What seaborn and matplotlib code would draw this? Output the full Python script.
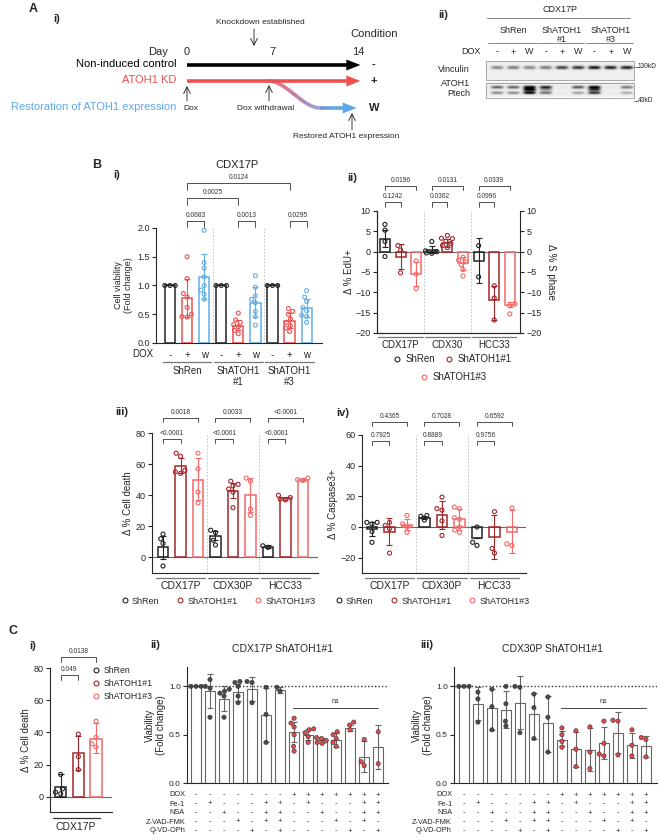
import warnings
import numpy as np
import pandas as pd
import matplotlib
matplotlib.use('Agg')
import matplotlib.pyplot as plt
import seaborn as sns
from matplotlib.transforms import offset_copy
from matplotlib.collections import LineCollection
from matplotlib.colors import LinearSegmentedColormap
from matplotlib.lines import Line2D
from matplotlib.patches import Rectangle

warnings.filterwarnings('ignore')

# ---------------- data ----------------
timeline_days = [0, 7, 14]

blot_lanes = ['-', '+', 'W'] * 3
blot_groups = ['ShRen', 'ShATOH1\n#1', 'ShATOH1\n#3']
vinculin_band = [0.45, 0.5, 0.45, 0.5, 0.75, 0.8, 0.95, 0.9, 0.9]
atoh1_upper = [0.6, 0.6, 1.0, 0.85, 0.04, 0.65, 1.0, 0.04, 0.5]
atoh1_mid = [0.0, 0.0, 1.0, 0.3, 0.0, 0.0, 0.7, 0.0, 0.0]
atoh1_lower = [0.45, 0.45, 1.0, 0.55, 0.03, 0.35, 0.8, 0.03, 0.3]

# B i  CDX17P viability
bi_cond = ['-', '+', 'w'] * 3
bi_groups = ['ShRen', 'ShATOH1\n#1', 'ShATOH1\n#3']
bi_mean = [1.0, 0.78, 1.15, 1.0, 0.30, 0.70, 1.0, 0.38, 0.61]
bi_lo = [1.0, 0.45, 0.76, 1.0, 0.22, 0.45, 1.0, 0.26, 0.46]
bi_hi = [1.0, 1.12, 1.55, 1.0, 0.40, 0.97, 1.0, 0.52, 0.76]
bi_pts = [[1, 1, 1], [1.50, 1.12, 0.86, 0.80, 0.62, 0.50, 0.46, 0.45],
          [1.96, 1.40, 1.30, 1.15, 1.00, 0.92, 0.85, 0.76], [1, 1, 1],
          [0.52, 0.40, 0.36, 0.32, 0.28, 0.22, 0.16],
          [1.17, 0.97, 0.82, 0.76, 0.70, 0.55, 0.46, 0.31], [1, 1, 1],
          [0.60, 0.55, 0.50, 0.42, 0.36, 0.30, 0.26, 0.20],
          [0.91, 0.80, 0.72, 0.62, 0.56, 0.48, 0.46, 0.36]]

lines = ['ShRen', 'ShATOH1#1', 'ShATOH1#3']
bar_lines = lines * 3

# B ii  EdU
bii_models = ['CDX17P', 'CDX30', 'HCC33']
bii_mean = [3.2, -1.3, -5.5, 0.3, 2.2, -2.8, -2.2, -12.0, -13.0]
bii_lo = [1.1, -4.3, -8.5, -0.4, 1.2, -4.5, -7.6, -16.8, -13.6]
bii_hi = [5.3, 1.8, -2.5, 1.5, 3.2, -1.3, 3.3, -8.4, -12.5]
bii_pts = [[6.7, 5.3, 2.5, -1.2], [1.5, 0.4, -5.2], [-2.3, -5.5, -9.1],
           [2.5, 0.2, 0.0, -0.3, -0.4], [4.0, 3.3, 3.2, 2.6, 2.0, 1.5, 1.0],
           [-1.4, -2.1, -2.5, -3.2, -4.4, -6.0], [1.5, -6.2],
           [-8.4, -11.4, -16.8], [-12.9, -13.3, -15.3]]

# B iii  cell death
biii_models = ['CDX17P', 'CDX30P', 'HCC33']
biii_mean = [7, 59, 50, 14, 43, 40, 7, 38, 50]
biii_lo = [-1, 54, 37, 11, 38, 29, 6, 37, 49]
biii_hi = [14, 64, 64, 17, 48, 51, 8, 39, 51]
biii_pts = [[15, 12, 9, -5.5], [67, 65, 56, 55, 54], [67, 57, 42, 35],
            [17.5, 16, 11, 8], [49, 47, 46, 44, 42, 32], [51, 49, 31, 27],
            [6.5, 7.5], [40, 38.5, 37, 37.5], [50, 49.5, 51]]

# B iv  caspase3
biv_mean = [-1, -3, 1.5, 6, 8, 5.5, -7, -6.5, -3]
biv_lo = [-6, -12, -2, 5, -1, -2, -7, -21, -17]
biv_hi = [3, 6, 5, 7.5, 17, 12, -7, 8, 11]
biv_pts = [[3, 3, 2, -3, -10], [3, 1, -1, -17], [7.5, 2, 0, -3.5], [7.5, 7, 4.5],
           [19.5, 12, 11, 4, -5.5], [13, 12, 6, 5, 0, -2, -3.5], [0, -10, -12],
           [10, -14, -17], [12.5, -11, -12]]

# C i
ci_mean = [6, 27, 36]
ci_lo = [0, 17, 27]
ci_hi = [14, 38, 46]
ci_pts = [[14, 5, 3, 2], [39, 25, 17], [47, 37, 33, 31]]

# C ii / iii treatment table
tbl_rows = ['DOX', 'Fe-1', 'NSA', 'Z-VAD-FMK', 'Q-VD-OPh']
tbl = ['-------+++++++',
       '-+---++-+---++',
       '--+--++--+--++',
       '---+-++---+-+-',
       '----+-+----+-+']

cii_mean = [1.0, 0.95, 0.87, 0.94, 0.97, 0.70, 0.96, 0.53, 0.50, 0.44, 0.44, 0.57, 0.27, 0.37]
cii_lo = [1.0, 0.78, 0.74, 0.85, 0.85, 0.42, 0.93, 0.42, 0.45, 0.41, 0.37, 0.54, 0.11, 0.15]
cii_hi = [1.0, 1.13, 1.00, 1.02, 1.10, 0.98, 0.99, 0.63, 0.56, 0.47, 0.52, 0.60, 0.43, 0.60]
cii_pts = [[1, 1, 1], [1.07, 1.0, 0.98, 0.68], [0.97, 0.95, 0.93, 0.90, 0.68],
           [1.05, 1.04, 1.0, 0.90, 0.83], [1.05, 1.04, 0.83], [0.99, 0.71, 0.42],
           [0.99, 0.95], [0.67, 0.62, 0.58, 0.50, 0.38, 0.33],
           [0.56, 0.55, 0.52, 0.48, 0.42], [0.47, 0.46, 0.44, 0.42, 0.41],
           [0.53, 0.50, 0.46, 0.42, 0.38], [0.63, 0.60, 0.55], [0.45, 0.22, 0.18],
           [0.53, 0.20]]

ciii_mean = [1.0, 0.82, 0.78, 0.76, 0.83, 0.71, 0.62, 0.45, 0.35, 0.34, 0.41, 0.52, 0.39, 0.38]
ciii_lo = [1.0, 0.65, 0.55, 0.57, 0.56, 0.46, 0.32, 0.38, 0.17, 0.12, 0.25, 0.31, 0.26, 0.27]
ciii_hi = [1.0, 0.99, 0.97, 0.95, 1.11, 0.93, 0.90, 0.54, 0.53, 0.57, 0.58, 0.73, 0.52, 0.49]
ciii_pts = [[1, 1, 1], [0.94, 0.87, 0.63], [0.97, 0.79, 0.55], [1.0, 0.82, 0.64, 0.59],
            [1.0, 0.99, 0.52], [0.92, 0.78, 0.46], [0.89, 0.68, 0.32],
            [0.57, 0.50, 0.43, 0.37], [0.54, 0.35, 0.17], [0.58, 0.32, 0.15],
            [0.64, 0.41, 0.30, 0.28], [0.65, 0.64, 0.29], [0.55, 0.39, 0.28],
            [0.47, 0.45, 0.27]]

# ---------------- style ----------------
sns.set_theme(style='ticks')
plt.rcParams['font.family'] = ['Liberation Sans', 'DejaVu Sans']
plt.rcParams['axes.linewidth'] = 0.8

KD_RED = '#ef4f4f'
W_BLUE = '#5ea8ea'
cond_colors = {'-': '#222222', '+': '#ec5252', 'w': '#62aee8'}
line_colors = {'ShRen': '#222222', 'ShATOH1#1': '#a3262a', 'ShATOH1#3': '#f26a6a'}

W, H = 659, 840
fig = plt.figure(figsize=(W / 100, H / 100), dpi=100)


def px_axes(x0, y0, x1, y1):
    return fig.add_axes([x0 / W, 1 - y1 / H, (x1 - x0) / W, (y1 - y0) / H])


def ftext(x, y, s, **kw):
    kw.setdefault('ha', 'center')
    kw.setdefault('va', 'center')
    fig.text(x / W, 1 - y / H, s, **kw)


def below(ax, dy, dx=0):
    return offset_copy(ax.get_xaxis_transform(), fig=fig, x=dx, y=-dy, units='dots')


def style(ax, fs=6.5):
    sns.despine(ax=ax)
    ax.tick_params(labelsize=fs, length=3, width=0.8, pad=1.5)
    ax.set_xlabel('')


def bar_panel(ax, means, lo, hi, pts, colors, width=0.6, lw=1.1, size=2.9,
              hollow=True, pt_colors=None, pt_edge='#333333'):
    ids = [str(i) for i in range(len(means))]
    bars = pd.DataFrame({'bar': ids, 'mean': means})
    sns.barplot(data=bars, x='bar', y='mean', hue='bar', order=ids, hue_order=ids,
                palette=dict(zip(ids, colors)), fill=False, dodge=False,
                errorbar=None, width=width, linewidth=lw, legend=False, ax=ax)
    for i in range(len(ids)):
        ax.errorbar(i, means[i], yerr=[[means[i] - lo[i]], [hi[i] - means[i]]],
                    fmt='none', ecolor=colors[i], elinewidth=0.8, capsize=2,
                    capthick=0.8)
    long = pd.DataFrame({'bar': [ids[i] for i, p in enumerate(pts) for _ in p],
                         'val': [v for p in pts for v in p]})
    n0 = len(ax.collections)
    sns.swarmplot(data=long, x='bar', y='val', hue='bar', order=ids, hue_order=ids,
                  palette=dict(zip(ids, pt_colors or colors)), size=size,
                  legend=False, ax=ax)
    for c in ax.collections[n0:]:
        if hollow:
            c.set_edgecolors(c.get_facecolors())
            c.set_facecolors('none')
            c.set_linewidths(0.8)
        else:
            c.set_edgecolors(pt_edge)
            c.set_linewidths(0.4)


def bracket(ax, i, j, y, leg, label, fs=4.8, color='#333333'):
    ax.plot([i, i, j, j], [y - leg, y, y, y - leg], color=color, lw=0.6, clip_on=False)
    ax.annotate(label, xy=((i + j) / 2, y), xytext=(0, 1.5), textcoords='offset points',
                ha='center', va='bottom', fontsize=fs, color=color,
                annotation_clip=False)


def group_lines(ax, names, dy_line, dy_text, fs=7, color='#777777', lw=0.9):
    for g, name in enumerate(names):
        ax.plot([3 * g - 0.42, 3 * g + 2.42], [0, 0], transform=below(ax, dy_line),
                color=color, lw=lw, clip_on=False)
        ax.text(3 * g + 1, 0, name, transform=below(ax, dy_text), ha='center',
                va='top', fontsize=fs, linespacing=1.1)


def legend_at(labels, colors, cx, cy, ncol, fs=6.5, colspace=1.6):
    hs = [Line2D([], [], marker='o', ls='none', mfc='none', mec=c, ms=3.5, mew=0.8)
          for c in colors]
    fig.legend(hs, labels, ncol=ncol, loc='center', bbox_to_anchor=(cx / W, 1 - cy / H),
               frameon=False, fontsize=fs, handletextpad=0.3, columnspacing=colspace,
               handlelength=1.0, borderpad=0, borderaxespad=0)


# ---------------- A i : schematic ----------------
ax = px_axes(0, 0, 400, 150)
ax.axis('off')


def d(px):
    return (px - 187) / 12.21


ftext(33, 9, 'A', fontsize=9, fontweight='bold')
ftext(57, 19, 'i)', fontsize=8, fontweight='bold')
for day in timeline_days:
    ax.text(day, 52, str(day), ha='center', va='center', fontsize=8)
ax.text(d(158), 52, 'Day', ha='center', va='center', fontsize=8)
ax.text(d(374), 34, 'Condition', ha='center', va='center', fontsize=8)
ax.text(d(260), 23, 'Knockdown established', ha='center', va='center', fontsize=6)
ax.annotate('', xy=(d(254), 46), xytext=(d(254), 29),
            arrowprops=dict(arrowstyle='->', lw=0.6, color='k', shrinkA=0, shrinkB=0))

rows = [('Non-induced control', 'black', '-', 65), ('ATOH1 KD', KD_RED, '+', 81)]
for label, col, cond, y in rows:
    ax.text(d(176), y - 1, label, ha='right', va='center', fontsize=8, color=col)
    ax.arrow(0, y, 14.2, 0, width=3.6, head_width=11, head_length=1.15,
             length_includes_head=True, color=col, lw=0)
    ax.text(d(374), y, cond, ha='center', va='center', fontsize=8, fontweight='bold')

ax.text(d(176), 107, 'Restoration of ATOH1 expression', ha='right', va='center',
        fontsize=8, color=W_BLUE)
xs = np.linspace(6.7, 12.6, 120)
t = np.clip((xs - 6.7) / 4.2, 0, 1)
ys = 81 + 27 * t * t * (3 - 2 * t)
segs = np.stack([np.column_stack([xs[:-1], ys[:-1]]), np.column_stack([xs[1:], ys[1:]])], axis=1)
grad = LinearSegmentedColormap.from_list('kdw', [KD_RED, '#9a6aa0', W_BLUE])
ax.add_collection(LineCollection(segs, colors=grad(np.clip((xs[:-1] - 6.9) / 5.0, 0, 1)),
                                 linewidths=2.6, capstyle='butt'))
ax.arrow(12.5, 108, 1.4, 0, width=3.6, head_width=11, head_length=1.15,
         length_includes_head=True, color=W_BLUE, lw=0)
ax.text(d(374), 108, 'W', ha='center', va='center', fontsize=8, fontweight='bold')

ax.annotate('', xy=(0, 86), xytext=(0, 101),
            arrowprops=dict(arrowstyle='->', lw=0.6, color='k', shrinkA=0, shrinkB=0))
ax.text(d(191), 109, 'Dox', ha='center', va='center', fontsize=6)
ax.annotate('', xy=(d(269), 85), xytext=(d(269), 101),
            arrowprops=dict(arrowstyle='->', lw=0.6, color='k', shrinkA=0, shrinkB=0))
ax.text(d(266), 108, 'Dox withdrawal', ha='center', va='center', fontsize=6)
ax.annotate('', xy=(d(352), 113), xytext=(d(352), 130),
            arrowprops=dict(arrowstyle='->', lw=0.6, color='k', shrinkA=0, shrinkB=0))
ax.text(d(293), 136, 'Restored ATOH1 expression', ha='left', va='center', fontsize=6)
ax.set_xlim(d(0), d(400))
ax.set_ylim(150, 0)

# ---------------- A ii : western blot ----------------
ax = px_axes(400, 0, 659, 150)
ax.axis('off')
lane_x = np.linspace(497, 627, 9)
bx = np.linspace(486, 634, 300)


def blot(y0, y1, bands):
    yy = np.linspace(y0, y1, 80)
    X, Y = np.meshgrid(bx, yy)
    img = np.full(X.shape, 0.94)
    for yc, hh, inten in bands:
        for xc, v in zip(lane_x, inten):
            img -= v * 0.95 * np.exp(-((X - xc) / 6.2) ** 4) * np.exp(-((Y - yc) / hh) ** 2)
    ax.imshow(np.clip(img, 0, 1), extent=[486, 634, y1, y0], cmap='gray', vmin=0, vmax=1,
              aspect='auto', interpolation='bilinear')
    ax.add_patch(Rectangle((486, y0), 148, y1 - y0, fill=False, ec='#999999', lw=0.6))


blot(61, 80, [(67.5, 1.7, vinculin_band)])
blot(83, 97.5, [(88, 1.5, atoh1_upper), (90.5, 1.6, atoh1_mid), (93.5, 1.3, atoh1_lower)])
ax.text(443, 15, 'ii)', ha='center', va='center', fontsize=8, fontweight='bold')
ax.text(560, 9, 'CDX17P', ha='center', va='center', fontsize=6.5)
ax.plot([487, 630], [18, 18], color='#888888', lw=0.7)
for g, name in enumerate(blot_groups):
    cx = lane_x[3 * g + 1]
    ax.text(cx, 26, name, ha='center', va='top', fontsize=6.5, linespacing=1.0)
    ax.plot([lane_x[3 * g] - 9, lane_x[3 * g + 2] + 6], [43, 43], color='#888888', lw=0.7)
ax.text(481, 52, 'DOX', ha='right', va='center', fontsize=6.5)
for xl, s in zip(lane_x, blot_lanes):
    ax.text(xl, 52, s, ha='center', va='center', fontsize=6.5)
ax.text(470, 70, 'Vinculin', ha='right', va='center', fontsize=6.5)
ax.text(470, 84, 'ATOH1', ha='right', va='center', fontsize=6.5)
ax.text(470, 94, 'Ptech', ha='right', va='center', fontsize=6.5)
ax.plot([634, 638], [67, 67], color='#555555', lw=0.6)
ax.text(638, 67, '130kD', ha='left', va='center', fontsize=4.8)
ax.plot([634, 638], [101, 101], color='#555555', lw=0.6)
ax.text(638, 101, '43kD', ha='left', va='center', fontsize=4.8)
ax.set_xlim(400, 659)
ax.set_ylim(150, 0)

# ---------------- B i ----------------
ftext(97, 165, 'B', fontsize=9, fontweight='bold')
ftext(117, 175, 'i)', fontsize=8, fontweight='bold')
ftext(237, 165, 'CDX17P', fontsize=8)
ax = px_axes(156, 228, 322, 343)
bar_panel(ax, bi_mean, bi_lo, bi_hi, bi_pts, [cond_colors[c] for c in bi_cond], width=0.6,
          size=2.8)
for xv in (2.5, 5.5):
    ax.axvline(xv, ls=(0, (2, 2)), color='#bbbbbb', lw=0.6, zorder=0)
style(ax)
ax.set_yticks([0, 0.5, 1.0, 1.5, 2.0])
ax.set_yticklabels(['0.0', '0.5', '1.0', '1.5', '2.0'])
ax.set_xticks(range(9))
ax.set_xticklabels(bi_cond, fontsize=7)
ax.tick_params(axis='x', length=0, pad=5)
ax.set_ylabel('Cell viability\n(Fold change)', fontsize=6.5, labelpad=3, linespacing=1.1)
bracket(ax, 1, 2, 2.12, 0.1, '0.0683')
bracket(ax, 4, 5, 2.12, 0.1, '0.0013')
bracket(ax, 7, 8, 2.12, 0.1, '0.0295')
bracket(ax, 1, 4, 2.52, 0.12, '0.0025')
bracket(ax, 1, 7, 2.78, 0.12, '0.0124')
ax.set_xlim(-0.82, 8.9)
ax.set_ylim(0, 2)
ftext(143, 354, 'DOX', fontsize=7)
group_lines(ax, bi_groups, 19, 23, fs=7)

# ---------------- B ii ----------------
ftext(352, 178, 'ii)', fontsize=8, fontweight='bold')
ax = px_axes(377, 211, 520, 333)
bar_panel(ax, bii_mean, bii_lo, bii_hi, bii_pts, [line_colors[l] for l in bar_lines],
          width=0.64)
ax.axhline(0, color='#666666', lw=0.8, zorder=0)
for xv in (2.5, 5.5):
    ax.axvline(xv, ls=(0, (2, 2)), color='#bbbbbb', lw=0.6, zorder=0)
style(ax)
ax.set_xticks([])
ax.set_ylabel('\u0394 % EdU+', fontsize=7, labelpad=1)
for (i, j, y, lab) in [(0, 1, 12.2, '0.1242'), (0, 2, 16.2, '0.0196'),
                       (3, 4, 12.2, '0.0362'), (3, 5, 16.2, '0.0131'),
                       (6, 7, 12.2, '0.0996'), (6, 8, 16.2, '0.0339')]:
    bracket(ax, i, j, y, 1.1, lab)
ax.set_xlim(-0.51, 8.65)
ax.set_ylim(-20, 10)
ax.set_yticks(range(-20, 11, 5))
tw = ax.twinx()
tw.set_ylim(-20, 10)
tw.set_yticks(range(-20, 11, 5))
tw.spines['top'].set_visible(False)
tw.tick_params(labelsize=6.5, length=3, width=0.8, pad=1.5)
tw.set_ylabel('\u0394 % S phase', fontsize=7, rotation=270, va='bottom', labelpad=3)
group_lines(ax, bii_models, 4, 7, fs=7)
legend_at(lines[:2], [line_colors[l] for l in lines[:2]], 452, 359, 2, fs=7, colspace=1.0)
legend_at(lines[2:], [line_colors[lines[2]]], 453, 377, 1, fs=7)

# ---------------- B iii ----------------
ftext(122, 412, 'iii)', fontsize=8, fontweight='bold')
ax = px_axes(152, 433, 318, 573)
bar_panel(ax, biii_mean, biii_lo, biii_hi, biii_pts, [line_colors[l] for l in bar_lines],
          width=0.62)
ax.axhline(0, color='#666666', lw=0.8, zorder=0)
for xv in (2.5, 5.5):
    ax.axvline(xv, ls=(0, (2, 2)), color='#bbbbbb', lw=0.6, zorder=0)
style(ax)
ax.set_xticks([])
ax.set_yticks([0, 20, 40, 60, 80])
ax.set_ylabel('\u0394 % Cell death', fontsize=7, labelpad=2)
for g, (top, low) in enumerate([('0.0018', '<0.0001'), ('0.0033', '<0.0001'),
                                ('<0.0001', '<0.0001')]):
    bracket(ax, 3 * g, 3 * g + 1, 76, 2.6, low)
    bracket(ax, 3 * g, 3 * g + 2, 89.5, 2.6, top)
ax.set_xlim(-0.63, 8.86)
ax.set_ylim(-10, 80)
group_lines(ax, biii_models, 5, 8, fs=7.5)
legend_at(lines, [line_colors[l] for l in lines], 218, 601, 3, fs=6.5, colspace=1.8)

# ---------------- B iv ----------------
ftext(343, 413, 'iv)', fontsize=8, fontweight='bold')
ax = px_axes(362, 435, 526, 573)
bar_panel(ax, biv_mean, biv_lo, biv_hi, biv_pts, [line_colors[l] for l in bar_lines],
          width=0.58)
ax.axhline(0, color='#666666', lw=0.8, zorder=0)
for xv in (2.5, 5.5):
    ax.axvline(xv, ls=(0, (2, 2)), color='#bbbbbb', lw=0.6, zorder=0)
style(ax)
ax.set_xticks([])
ax.set_yticks([-20, 0, 20, 40, 60])
ax.set_ylabel('\u0394 % Caspase3+', fontsize=7, labelpad=2)
for g, (top, low) in enumerate([('0.4365', '0.7925'), ('0.7028', '0.8889'),
                                ('0.6592', '0.9756')]):
    bracket(ax, 3 * g, 3 * g + 1, 56, 2.6, low)
    bracket(ax, 3 * g, 3 * g + 2, 68.5, 2.6, top)
ax.set_xlim(-0.57, 8.8)
ax.set_ylim(-30, 60)
group_lines(ax, biii_models, 5, 8, fs=7.5)
legend_at(lines, [line_colors[l] for l in lines], 432, 601, 3, fs=6.5, colspace=1.8)

# ---------------- C i ----------------
ftext(13, 631, 'C', fontsize=9, fontweight='bold')
ftext(33, 646, 'i)', fontsize=8, fontweight='bold')
ax = px_axes(50, 668, 112, 811.5)
bar_panel(ax, ci_mean, ci_lo, ci_hi, ci_pts, [line_colors[l] for l in lines], width=0.65)
ax.axhline(0, color='#666666', lw=0.8, zorder=0)
style(ax)
ax.set_xticks([])
ax.set_yticks([0, 20, 40, 60, 80])
ax.set_ylabel('\u0394 % Cell death', fontsize=7, labelpad=2)
bracket(ax, 0, 1, 75.7, 3, '0.049')
bracket(ax, 0, 2, 86.8, 3, '0.0138')
ax.set_xlim(-0.6, 2.9)
ax.set_ylim(-9, 80)
ax.plot([-0.45, 2.2], [0, 0], transform=below(ax, 6.5), color='#333333', lw=0.9,
        clip_on=False)
ax.text(0.85, 0, 'CDX17P', transform=below(ax, 10), ha='center', va='top', fontsize=7.5)
hs = [Line2D([], [], marker='o', ls='none', mfc='none', mec=line_colors[l], ms=3.5, mew=0.8)
      for l in lines]
fig.legend(hs, lines, loc='upper left', bbox_to_anchor=(92 / W, 1 - 666 / H), frameon=False,
           fontsize=6.3, handletextpad=0.3, handlelength=1.0, borderpad=0, borderaxespad=0,
           labelspacing=0.45)

# ---------------- C ii / C iii ----------------
dox_pt = ['#e24a4a' if s == '+' else '#4a4a4a' for s in tbl[0]]


def viability_panel(box, mean, lo, hi, pts, title, tag, tag_xy, title_xy, xlim):
    ftext(*tag_xy, tag, fontsize=8, fontweight='bold')
    ftext(*title_xy, title, fontsize=7.5)
    ax = px_axes(*box)
    bar_panel(ax, mean, lo, hi, pts, ['#666666'] * len(mean), width=0.7, lw=0.8,
              size=3.1, hollow=False, pt_colors=dox_pt)
    ax.axhline(1.0, ls=(0, (1, 1.5)), color='#333333', lw=1.0, zorder=5)
    style(ax, fs=6)
    ax.set_xticks([])
    ax.set_yticks([0, 0.5, 1.0])
    ax.set_yticklabels(['0.0', '0.5', '1.0'])
    ax.set_ylabel('Viability\n(Fold change)', fontsize=7, labelpad=2, linespacing=1.1)
    ax.plot([6.9, 13.0], [0.78, 0.78], color='#444444', lw=0.7)
    ax.text(9.95, 0.81, 'ns', ha='center', va='bottom', fontsize=5)
    for r, (name, row) in enumerate(zip(tbl_rows, tbl)):
        dy = 12 + 9 * r
        ax.text(xlim[0], 0, name, transform=below(ax, dy, dx=-2), ha='right',
                va='center', fontsize=5.3)
        for i, s in enumerate(row):
            ax.text(i, 0, s, transform=below(ax, dy), ha='center', va='center',
                    fontsize=5.5)
    ax.set_xlim(*xlim)
    ax.set_ylim(0, 1.2)


viability_panel((187, 667, 388, 783), cii_mean, cii_lo, cii_hi, cii_pts,
                'CDX17P ShATOH1#1', 'ii)', (155, 645), (283, 649), (-0.64, 13.7))
viability_panel((454, 667, 657, 783), ciii_mean, ciii_lo, ciii_hi, ciii_pts,
                'CDX30P ShATOH1#1', 'iii)', (427, 645), (552, 649), (-0.71, 13.79))

fig.savefig('out.png', dpi=100)
